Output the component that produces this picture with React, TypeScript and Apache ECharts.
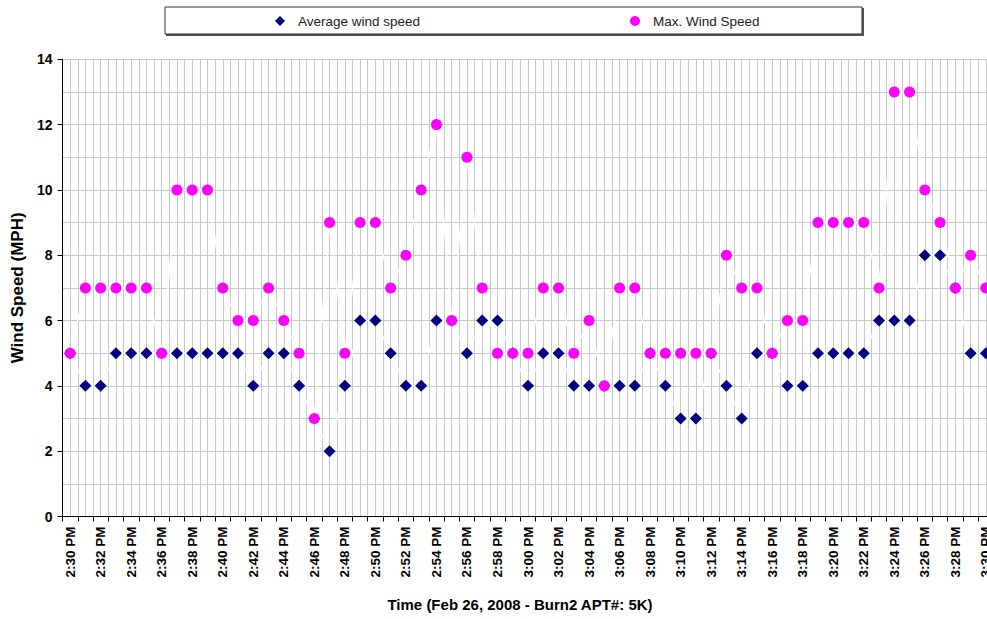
import React, { useEffect, useRef } from "react";
import * as echarts from "echarts";

const times = [
  "2:30 PM", "2:31 PM", "2:32 PM", "2:33 PM", "2:34 PM", "2:35 PM", "2:36 PM", "2:37 PM", "2:38 PM", "2:39 PM",
  "2:40 PM", "2:41 PM", "2:42 PM", "2:43 PM", "2:44 PM", "2:45 PM", "2:46 PM", "2:47 PM", "2:48 PM", "2:49 PM",
  "2:50 PM", "2:51 PM", "2:52 PM", "2:53 PM", "2:54 PM", "2:55 PM", "2:56 PM", "2:57 PM", "2:58 PM", "2:59 PM",
  "3:00 PM", "3:01 PM", "3:02 PM", "3:03 PM", "3:04 PM", "3:05 PM", "3:06 PM", "3:07 PM", "3:08 PM", "3:09 PM",
  "3:10 PM", "3:11 PM", "3:12 PM", "3:13 PM", "3:14 PM", "3:15 PM", "3:16 PM", "3:17 PM", "3:18 PM", "3:19 PM",
  "3:20 PM", "3:21 PM", "3:22 PM", "3:23 PM", "3:24 PM", "3:25 PM", "3:26 PM", "3:27 PM", "3:28 PM", "3:29 PM",
  "3:30 PM",
];

const avgWind = [
  5, 4, 4, 5, 5, 5, 5, 5, 5, 5,
  5, 5, 4, 5, 5, 4, 3, 2, 4, 6,
  6, 5, 4, 4, 6, 6, 5, 6, 6, 5,
  4, 5, 5, 4, 4, 4, 4, 4, 5, 4,
  3, 3, 5, 4, 3, 5, 5, 4, 4, 5,
  5, 5, 5, 6, 6, 6, 8, 8, 7, 5,
  5,
];

const maxWind = [
  5, 7, 7, 7, 7, 7, 5, 10, 10, 10,
  7, 6, 6, 7, 6, 5, 3, 9, 5, 9,
  9, 7, 8, 10, 12, 6, 11, 7, 5, 5,
  5, 7, 7, 5, 6, 4, 7, 7, 5, 5,
  5, 5, 5, 8, 7, 7, 5, 6, 6, 9,
  9, 9, 9, 7, 13, 13, 10, 9, 7, 8,
  7,
];

const yTicks = { min: 0, max: 14, interval: 2 };

const seriesNames = ["Average wind speed", "Max. Wind Speed"];
const xTitle = "Time (Feb 26, 2008 - Burn2 APT#: 5K)";
const yTitle = "Wind Speed (MPH)";

export default function App() {
  const ref = useRef<HTMLDivElement>(null);

  useEffect(() => {
    if (!ref.current) return;
    const chart = echarts.init(ref.current, undefined, { renderer: "svg" });
    const halfSlots = Array.from({ length: times.length * 2 }, (_, i) => String(i));
    const gridColor = "#c8c8c8";
    const font = "Arial, 'Liberation Sans', sans-serif";

    chart.setOption({
      animation: false,
      backgroundColor: "#ffffff",
      grid: {
        left: 62.5,
        top: 59.3,
        right: -6.5,
        bottom: 102.5,
        containLabel: false,
        outerBoundsMode: "none",
      },
      graphic: [
        {
          type: "rect",
          shape: { x: 166, y: 8, width: 698, height: 28 },
          style: { fill: "#555555" },
          z: 1,
        },
        {
          type: "rect",
          shape: { x: 165, y: 7, width: 697, height: 27 },
          style: { fill: "#ffffff", stroke: "#333333", lineWidth: 1 },
          z: 2,
        },
      ],
      legend: [
        {
          data: [{ name: seriesNames[0], icon: "diamond" }],
          left: 275,
          top: 14,
          itemWidth: 10,
          itemHeight: 10,
          padding: 0,
          z: 5,
          textStyle: {
            fontFamily: font,
            fontSize: 13.5,
            color: "#222222",
            padding: [0, 0, 0, 8],
          },
        },
        {
          data: [{ name: seriesNames[1], icon: "circle" }],
          left: 630,
          top: 14,
          itemWidth: 10,
          itemHeight: 10,
          padding: 0,
          z: 5,
          textStyle: {
            fontFamily: font,
            fontSize: 13.5,
            color: "#222222",
            padding: [0, 0, 0, 8],
          },
        },
      ],
      xAxis: [
        {
          type: "category",
          data: times,
          boundaryGap: true,
          position: "bottom",
          name: xTitle,
          nameLocation: "middle",
          nameGap: 80,
          nameTextStyle: {
            fontFamily: font,
            fontWeight: "bold",
            fontSize: 15,
            color: "#000000",
            padding: [0, 16, 0, 0],
          },
          axisLine: { show: true, lineStyle: { color: "#000000", width: 1 } },
          axisTick: { show: true, interval: 0, length: 5, lineStyle: { color: "#000000" } },
          axisLabel: {
            interval: 1,
            rotate: 90,
            margin: 10,
            fontFamily: font,
            fontWeight: "bold",
            fontSize: 13.5,
            color: "#000000",
          },
          splitLine: { show: false },
          z: 3,
        },
        {
          type: "category",
          data: halfSlots,
          boundaryGap: true,
          position: "top",
          axisLine: { show: false },
          axisTick: { show: false },
          axisLabel: { show: false },
          splitLine: { show: true, interval: 0, lineStyle: { color: gridColor, width: 1 } },
        },
      ],
      yAxis: {
        type: "value",
        min: yTicks.min,
        max: yTicks.max,
        interval: yTicks.interval,
        name: yTitle,
        nameLocation: "middle",
        nameGap: 25,
        nameTextStyle: {
          fontFamily: font,
          fontWeight: "bold",
          fontSize: 17,
          color: "#000000",
        },
        axisLine: { show: true, lineStyle: { color: "#000000", width: 1 } },
        axisTick: { show: true, length: 5, lineStyle: { color: "#000000" } },
        axisLabel: {
          margin: 10,
          fontFamily: font,
          fontWeight: "bold",
          fontSize: 14,
          color: "#000000",
        },
        splitLine: { show: true, lineStyle: { color: gridColor, width: 1 } },
        minorTick: { show: false, splitNumber: 2 },
        minorSplitLine: { show: true, lineStyle: { color: gridColor, width: 1 } },
        z: 3,
      },
      series: [
        {
          name: seriesNames[0],
          type: "line",
          xAxisIndex: 0,
          data: avgWind,
          symbol: "diamond",
          symbolSize: 12,
          showAllSymbol: true,
          itemStyle: { color: "#000080" },
          lineStyle: { color: "#ffffff", width: 1.5 },
          z: 4,
        },
        {
          name: seriesNames[1],
          type: "line",
          xAxisIndex: 0,
          data: maxWind,
          symbol: "circle",
          symbolSize: 11,
          showAllSymbol: true,
          itemStyle: { color: "#ff00ff" },
          lineStyle: { color: "#ffffff", width: 1.5 },
          z: 5,
        },
      ],
    });

    return () => chart.dispose();
  }, []);

  return (
    <div
      ref={ref}
      style={{ position: "absolute", left: 0, top: 0, width: 987, height: 619 }}
    />
  );
}
